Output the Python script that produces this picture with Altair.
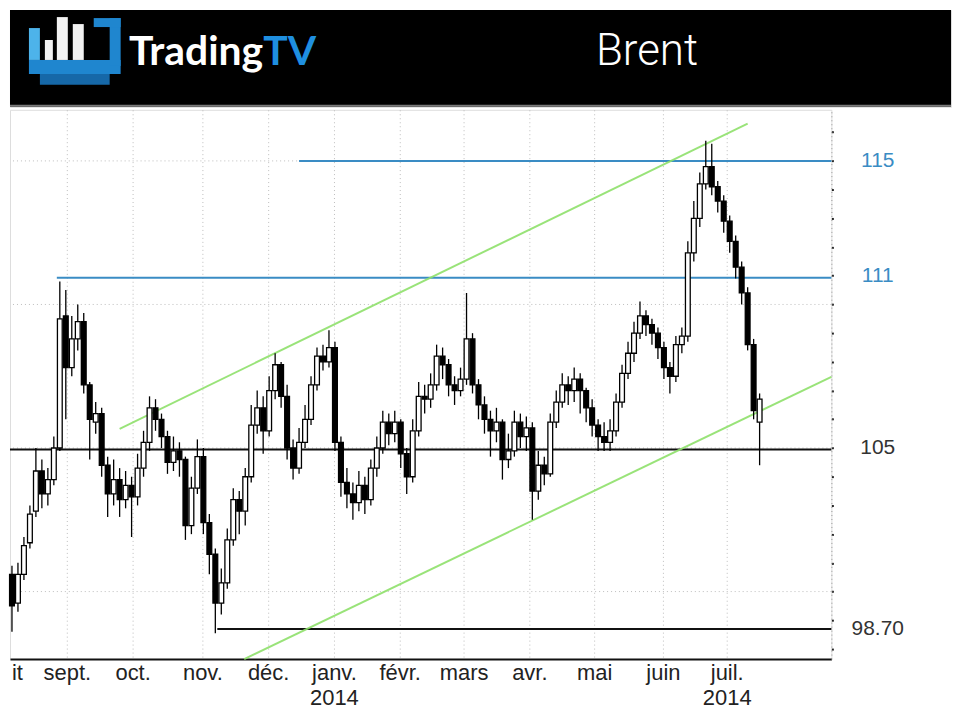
import json
import altair as alt
import pandas as pd

# ---------------- candle data (each candle ~ two sessions) ----------------
opens = [100.6, 99.6, 100.6, 101.7, 102.8, 104.2, 103.4, 103.9, 105.0, 109.6,
         107.8, 108.8, 109.4, 107.2, 105.9, 106.2, 104.4, 103.4, 103.9, 103.2,
         103.7, 103.3, 104.3, 105.2, 106.4, 106.0, 105.4, 104.5, 104.9, 104.6,
         102.3, 103.6, 104.7, 102.4, 101.3, 99.6, 100.3, 101.8, 103.2, 102.8,
         104.0, 105.8, 106.4, 105.6, 107.0, 107.9, 106.8, 105.0, 104.3, 105.2,
         106.0, 107.2, 108.2, 108.0, 108.5, 105.2, 103.8, 103.4, 103.1, 103.7,
         103.2, 104.3, 105.0, 105.9, 105.5, 105.9, 104.8, 104.0, 105.6, 106.8,
         106.7, 107.2, 108.2, 107.9, 107.2, 107.0, 107.4, 108.8, 107.2, 106.5,
         106.0, 105.6, 105.9, 104.6, 104.9, 105.9, 105.4, 105.7, 103.5, 104.4,
         104.1, 105.9, 106.6, 107.2, 107.0, 107.4, 107.0, 106.4, 105.8, 105.4,
         105.2, 105.6, 106.6, 107.6, 108.3, 109.0, 109.6, 109.3, 109.0, 108.5,
         107.8, 107.5, 108.6, 108.9, 111.8, 113.0, 114.2, 114.8, 114.1, 113.6,
         112.9, 112.2, 111.3, 110.4, 108.6, 105.9]
closes = [99.5, 100.6, 101.6, 102.7, 104.2, 103.4, 103.9, 105.0, 109.5, 107.8,
          108.8, 109.4, 107.2, 106.0, 106.2, 104.4, 103.4, 103.9, 103.2, 103.7,
          103.3, 104.3, 105.2, 106.4, 106.0, 105.4, 104.5, 104.9, 104.6, 102.3,
          103.6, 104.7, 102.4, 101.3, 99.6, 100.3, 101.8, 103.2, 102.8, 104.0,
          105.8, 106.4, 105.6, 107.0, 107.9, 106.8, 105.0, 104.3, 105.2, 106.0,
          107.2, 108.2, 108.0, 108.5, 105.2, 103.8, 103.4, 103.1, 103.7, 103.2,
          104.3, 105.0, 105.9, 105.5, 105.9, 104.8, 104.0, 105.6, 106.8, 106.7,
          107.2, 108.2, 107.9, 107.2, 107.0, 107.4, 108.8, 107.2, 106.5, 106.0,
          105.6, 105.9, 104.6, 104.9, 105.9, 105.4, 105.7, 103.5, 104.4, 104.1,
          105.9, 106.6, 107.2, 107.0, 107.4, 107.0, 106.4, 105.8, 105.4, 105.2,
          105.6, 106.6, 107.6, 108.3, 109.0, 109.6, 109.3, 109.0, 108.5, 107.8,
          107.5, 108.6, 108.9, 111.8, 113.0, 114.2, 114.8, 114.1, 113.6, 112.9,
          112.2, 111.3, 110.4, 108.6, 106.3, 106.7]
highs = [100.9, 101.0, 101.9, 103.0, 105.0, 104.6, 104.3, 105.4, 110.8, 110.5,
         109.6, 110.0, 109.7, 107.3, 106.6, 106.4, 104.7, 104.6, 104.3, 104.2,
         104.0, 104.8, 105.6, 106.8, 106.7, 106.2, 105.6, 105.4, 105.2, 104.7,
         104.0, 105.3, 105.0, 102.7, 101.5, 100.8, 102.2, 103.6, 103.5, 104.3,
         106.5, 107.0, 106.8, 107.5, 108.3, 108.0, 107.2, 105.3, 105.7, 106.5,
         107.5, 108.5, 108.6, 109.1, 108.7, 105.4, 104.3, 103.8, 104.2, 104.0,
         104.6, 105.4, 106.3, 106.2, 106.3, 106.0, 105.0, 106.0, 107.3, 107.2,
         107.6, 108.6, 108.5, 108.1, 107.5, 107.8, 110.4, 109.0, 107.4, 106.8,
         106.3, 106.4, 106.0, 105.5, 106.3, 106.2, 106.1, 105.9, 104.9, 104.7,
         106.2, 107.0, 107.6, 107.5, 107.8, 107.6, 107.1, 106.7, 106.0, 105.9,
         106.0, 106.9, 107.9, 108.7, 109.4, 110.1, 109.8, 109.5, 109.2, 108.7,
         108.0, 108.9, 109.2, 112.2, 113.6, 114.6, 115.7, 115.6, 114.3, 113.8,
         113.1, 112.4, 111.5, 110.6, 108.8, 106.9]
lows = [98.6, 99.3, 100.4, 101.5, 102.6, 102.9, 103.0, 103.7, 104.9, 106.0,
        107.5, 108.4, 106.9, 104.6, 105.5, 104.0, 102.6, 103.0, 102.6, 102.9,
        101.9, 103.0, 104.0, 104.9, 105.6, 105.0, 104.1, 104.2, 104.0, 101.8,
        102.0, 103.4, 102.0, 100.6, 98.55, 99.2, 100.1, 101.6, 102.0, 102.3,
        103.8, 105.5, 104.8, 105.4, 106.7, 106.4, 104.6, 103.9, 104.1, 105.0,
        105.8, 107.0, 107.7, 107.8, 104.9, 103.3, 102.9, 102.5, 102.8, 102.7,
        103.0, 104.0, 104.8, 105.1, 105.2, 104.3, 103.4, 103.8, 105.4, 106.2,
        106.4, 107.0, 107.4, 106.8, 106.5, 106.8, 107.2, 106.9, 106.0, 105.5,
        104.7, 105.2, 103.9, 104.3, 104.7, 105.0, 104.9, 102.5, 103.2, 103.7,
        104.0, 105.7, 106.4, 106.5, 106.6, 106.2, 105.9, 105.4, 104.9, 104.9,
        104.9, 105.4, 106.4, 107.4, 108.0, 108.8, 108.9, 108.6, 108.1, 107.4,
        106.9, 107.3, 108.3, 108.7, 111.5, 112.7, 114.0, 113.8, 113.2, 112.5,
        111.8, 110.9, 110.0, 108.4, 106.0, 104.4]

# ---------------- axis texts ----------------
month_pos = [0.83, 9.17, 20.17, 31.83, 42.83, 53.83, 64.83, 75.5, 86.5, 97.33, 108.83, 119.5]
month_labels = ["it", "sept.", "oct.", "nov.", "déc.", ["janv.", "2014"], "févr.", "mars",
                "avr.", "mai", "juin", ["juil.", "2014"]]
price_ticks = [98, 98.7, 99, 100, 101, 102, 103, 104, 105, 106, 107, 108, 109, 110,
               111, 112, 113, 114, 115, 116]
price_labels = [98.7, 105, 111, 115]

# ---------------- levels & channel ----------------
level_values = [115, 110.93, 104.95, 98.7]
level_start = [48, 7.5, -0.33, 34.33]
level_end = [137, 137, 137, 137]
level_colors = ["#3a8cc4", "#3a8cc4", "#111111", "#111111"]
grid_values = [100, 105, 110, 115]
chan_x1 = [18, 38.83]
chan_x2 = [123, 137]
chan_y1 = [105.67, 97.65]
chan_y2 = [116.30, 107.48]

BLUE = "#3a8cc4"
FONT = "Liberation Sans"

candles = pd.DataFrame({"i": list(range(len(opens))), "open": opens, "close": closes,
                        "high": highs, "low": lows})
levels = pd.DataFrame({"v": level_values, "x1": level_start, "x2": level_end, "c": level_colors})
chan = pd.DataFrame({"x1": chan_x1, "x2": chan_x2, "y1": chan_y1, "y2": chan_y2})
grid = pd.DataFrame({"v": grid_values})

xs = alt.Scale(domain=[-0.33, 137], nice=False, zero=False, padding=0)
ys = alt.Scale(domain=[97.65, 116.78], nice=False, zero=False, padding=0)

labels_js = json.dumps(month_labels, ensure_ascii=False)
ticks_js = json.dumps(month_pos)
xaxis = alt.Axis(values=month_pos, title=None,
                 labelExpr=f"{labels_js}[indexof({ticks_js}, datum.value)]",
                 grid=True, gridDash=[1, 3], gridColor="#bdbdbd",
                 gridOpacity={"condition": {"test": "datum.value < 1", "value": 0}, "value": 1},
                 ticks=False, domainColor="#111111", domainWidth=2,
                 labelFont=FONT, labelFontSize=22, labelColor="#222222", labelPadding=4,
                 labelLineHeight=25, labelOverlap=False, labelFlush=False)
lab_js = json.dumps(price_labels)
yaxis = alt.Axis(orient="right", values=price_ticks, title=None, grid=False,
                 labelExpr=(f"datum.value == 98.7 ? '98.70' : (indexof({lab_js}, datum.value) >= 0 ? "
                            "format(datum.value, 'd') : '')"),
                 tickSize=2, tickWidth=2,
                 tickColor={"condition": {"test": "datum.value == 98.7", "value": "transparent"},
                            "value": "#222222"},
                 domainDash=[1, 3], domainColor="#9a9a9a",
                 labelColor={"condition": {"test": "datum.value >= 111", "value": BLUE},
                             "value": "#333333"},
                 labelFont=FONT, labelFontSize=21, labelAlign="center", labelBaseline="middle",
                 labelPadding=44, labelOverlap=False, labelFlush=False)


def X(f):
    return alt.X(f, type="quantitative", scale=xs, axis=xaxis)


def Y(f):
    return alt.Y(f, type="quantitative", scale=ys, axis=yaxis)


hgrid = alt.Chart(grid).mark_rule(color="#bdbdbd", strokeDash=[1, 3], strokeWidth=1).encode(y=Y("v"))
lev = alt.Chart(levels).mark_rule(strokeWidth=2).encode(
    x=X("x1"), x2="x2", y=Y("v"), color=alt.Color("c:N", scale=None))
chn = alt.Chart(chan).mark_rule(color="#8ee06a", strokeWidth=2, opacity=0.9).encode(
    x=X("x1"), x2="x2", y=Y("y1"), y2="y2")
wick = alt.Chart(candles).mark_rule(color="black", strokeWidth=1.3).encode(
    x=X("i"), y=Y("low"), y2="high")
body = alt.Chart(candles).mark_bar(size=4.8, stroke="black", strokeWidth=1.3).encode(
    x=X("i"), y=Y("open"), y2="close",
    fill=alt.condition("datum.close > datum.open", alt.value("white"), alt.value("black")))

main = alt.layer(hgrid, lev, chn, wick, body).properties(width=824, height=551)

# ---------------- header (logo + title) ----------------
shape_x1 = [0, 19, 19, 100, 84, 30, 35, 47, 63, 0]
shape_x2 = [944, 30, 111, 111, 111, 100, 43, 58, 74, 944]
shape_y1 = [0, 18, 50, 8, 8, 64, 30, 7, 14, 95]
shape_y2 = [97, 50, 64, 56, 17, 75, 50, 50, 50, 97]
shape_col = ["#000000", "#4db3ea", "#1f86cf", "#1f86cf", "#1f86cf", "#1668a8",
             "#f2f2f2", "#f2f2f2", "#f2f2f2", "#7a7a7a"]
shapes = pd.DataFrame({"x1": shape_x1, "x2": shape_x2, "y1": shape_y1, "y2": shape_y2, "c": shape_col})

hx = alt.Scale(domain=[0, 944], nice=False, zero=False)
hy = alt.Scale(domain=[0, 97], nice=False, zero=False, reverse=True)

hshapes = alt.Chart(shapes).mark_rect().encode(
    x=alt.X("x1:Q", scale=hx, axis=None), x2="x2",
    y=alt.Y("y1:Q", scale=hy, axis=None), y2="y2",
    color=alt.Color("c:N", scale=None))


def htext(txt, x, y, **kw):
    d = pd.DataFrame({"x": [x], "y": [y], "t": [txt]})
    return alt.Chart(d).mark_text(baseline="alphabetic", **kw).encode(
        x=alt.X("x:Q", scale=hx, axis=None), y=alt.Y("y:Q", scale=hy, axis=None), text="t:N")


t1 = htext("Trading", 254, 55, align="right", font="Lato", fontWeight="bold", fontSize=41, color="white")
t2 = htext("TV", 254, 55, align="left", font="Lato", fontWeight="bold", fontSize=41, color="#1f8fe0")
t3 = htext("Brent", 639, 55, align="center", font="Roboto", fontWeight=300, fontSize=44, color="white")

header = alt.layer(hshapes, t1, t2, t3).properties(width=944, height=97)

chart = alt.vconcat(header, main, spacing=1).properties(padding=0).configure_view(
    strokeWidth=0).configure(background="white")

chart.save("out.html", embed_options={"renderer": "svg", "actions": False})
